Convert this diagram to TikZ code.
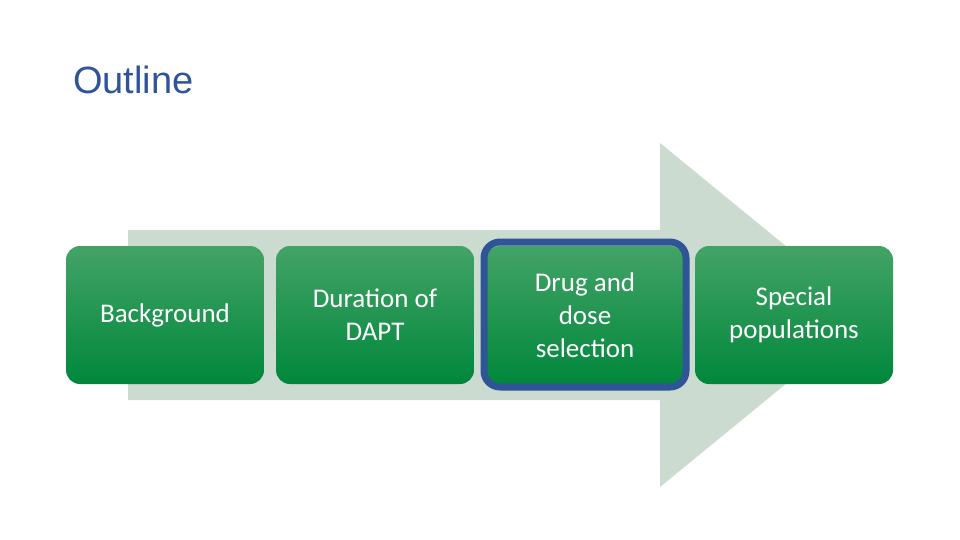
\documentclass[tikz,border=0pt]{standalone}
\usepackage{fontspec}
\setmainfont{Carlito}
\newfontfamily\titlefont{Liberation Sans}
\begin{document}
\begin{tikzpicture}[x=1pt,y=-1pt,
 box/.style={rounded corners=14pt,top color=green!45!black!70!white,bottom color=green!50!black,shading angle=0},
 lbl/.style={text=white,align=center,font=\fontsize{27}{33}\selectfont}]
\definecolor{arr}{HTML}{CCDBCF}
\definecolor{ttl}{HTML}{2F5597}
\definecolor{gtop}{HTML}{43A366}
\definecolor{gbot}{HTML}{00873C}
\useasboundingbox (0,0) rectangle (960,540);
\fill[arr] (128,230) -- (660,230) -- (660,143) -- (870,315) -- (660,487) -- (660,400) -- (128,400) -- cycle;
\node[anchor=base west,text=ttl,font=\titlefont\fontsize{38}{40}\selectfont,inner sep=0] (t) at (73,94) {Outline};
\foreach \n/\x/\t in {a/66/Background,b/276/{Duration of\\DAPT},c/486/{Drug and\\dose\\selection},d/695/{Special\\populations}}{
 \shade[rounded corners=14pt,top color=gtop,bottom color=gbot] (\x,246) rectangle ++(198,138);
 \node[lbl] (\n) at (\x+99,315) {\t};
}
\draw[ttl,line width=7pt,rounded corners=16pt] (484,242) rectangle (686,387);
\end{tikzpicture}
\end{document}
